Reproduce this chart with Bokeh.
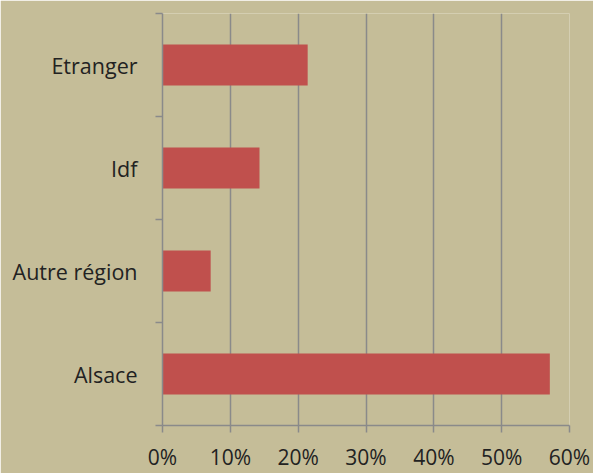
from bokeh.plotting import figure
from bokeh.models import FixedTicker, NumeralTickFormatter, Range1d, ColumnDataSource
from bokeh.embed import file_html
from bokeh.resources import INLINE

categories = ["Alsace", "Autre région", "Idf", "Etranger"]
values = [0.571, 0.071, 0.143, 0.214]
x_ticks = [0, 0.1, 0.2, 0.3, 0.4, 0.5, 0.6]

BG = "#c5bd98"
GRID = "#8a8a8a"
TXT = "#222222"
FONT = "Open Sans"

pos = [i + 0.5 for i in range(len(categories))]
src = ColumnDataSource(dict(y=pos, v=values, cat=categories))

p = figure(width=593, height=473, output_backend="svg", toolbar_location=None,
           x_range=Range1d(0, 0.6), y_range=Range1d(0, len(categories)),
           min_border_left=162, min_border_top=13, min_border_right=24, min_border_bottom=47)
p.background_fill_color = BG
p.border_fill_color = BG
p.outline_line_color = None

p.hbar(y="y", right="v", left=0, height=0.4, source=src, color="#c0504d", line_color=None)

# x axis
p.xaxis.ticker = FixedTicker(ticks=x_ticks, minor_ticks=[])
p.xaxis.formatter = NumeralTickFormatter(format="0%")
p.xaxis.axis_line_color = GRID
p.xaxis.axis_line_width = 1.5
p.xaxis.major_tick_line_color = GRID
p.xaxis.major_tick_line_width = 1.5
p.xaxis.major_tick_in = 0
p.xaxis.major_tick_out = 7
p.xaxis.minor_tick_line_color = None
p.xaxis.major_label_text_font = FONT
p.xaxis.major_label_text_font_size = "21px"
p.xaxis.major_label_text_color = TXT
p.xaxis.major_label_standoff = 10

# y axis: labels at centers, ticks at boundaries
p.yaxis.ticker = FixedTicker(ticks=pos, minor_ticks=list(range(len(categories) + 1)))
p.yaxis.major_label_overrides = {pos[i]: categories[i] for i in range(len(categories))}
p.yaxis.axis_line_color = GRID
p.yaxis.axis_line_width = 1.5
p.yaxis.major_tick_line_color = None
p.yaxis.minor_tick_line_color = GRID
p.yaxis.minor_tick_line_width = 1.5
p.yaxis.minor_tick_in = 0
p.yaxis.minor_tick_out = 7
p.yaxis.major_label_text_font = FONT
p.yaxis.major_label_text_font_size = "21.5px"
p.yaxis.major_label_text_color = TXT
p.yaxis.major_label_standoff = 18

p.xgrid.grid_line_color = GRID
p.xgrid.grid_line_width = 1.5
p.xgrid.ticker = FixedTicker(ticks=x_ticks)
p.ygrid.grid_line_color = None

html = file_html(p, INLINE)
html = html.replace("<body>", '<body style="margin:0;background:%s">' % BG, 1)
open("out.html", "w").write(html)
